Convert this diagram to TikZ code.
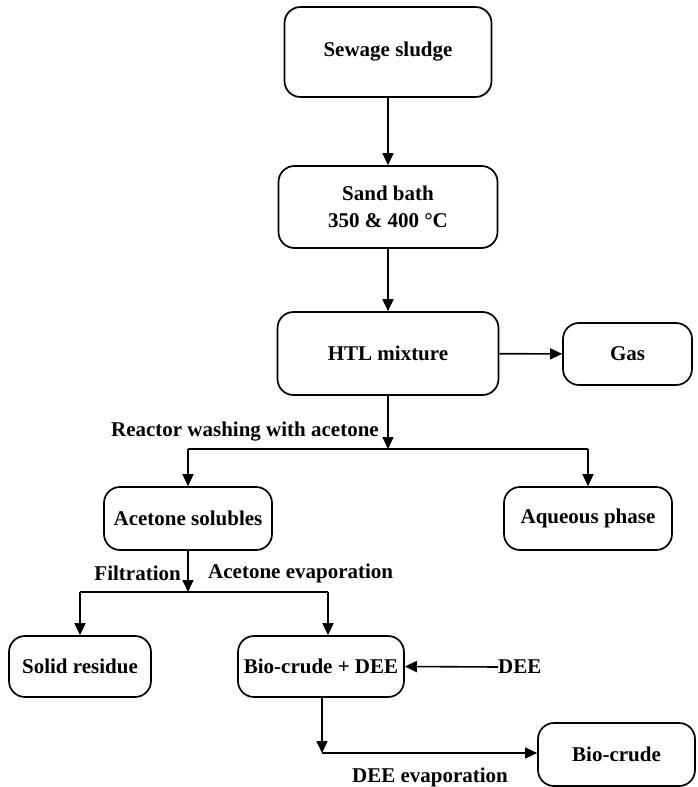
\documentclass[tikz,border=0pt]{standalone}
\usepackage{fontspec}
\setmainfont{Liberation Serif}
\usetikzlibrary{arrows.meta}
\begin{document}
\begin{tikzpicture}[x=1pt,y=-1pt,
  box/.style={draw,line width=1.7pt,rounded corners=16pt,align=center,inner sep=0pt},
  lbl/.style={inner sep=0pt,align=center},
  conn/.style={line width=1.6pt},
  arr/.style={line width=1.6pt,-{Triangle[length=12pt,width=11pt]}},
  every node/.style={font=\fontsize{21}{27}\selectfont\bfseries}]
\useasboundingbox (0,0) rectangle (698,787);
\node[box,minimum width=207pt,minimum height=90pt] (sewage) at (388,52) {Sewage sludge};
\node[box,minimum width=219pt,minimum height=82pt] (sand) at (388,207) {Sand bath\\350 \& 400 °C};
\node[box,minimum width=221pt,minimum height=83pt] (htl) at (388,353.5) {HTL mixture};
\node[box,minimum width=129pt,minimum height=62pt] (gas) at (627.5,354) {Gas};
\node[box,minimum width=168pt,minimum height=63pt] (acet) at (188,518.5) {Acetone solubles};
\node[box,minimum width=168pt,minimum height=63pt] (aq) at (588,518.5) {Aqueous phase};
\node[box,minimum width=142pt,minimum height=61pt] (solid) at (80,666.5) {Solid residue};
\node[box,minimum width=166pt,minimum height=61pt] (bdee) at (321,666.5) {Bio-crude + DEE};
\node[box,minimum width=157pt,minimum height=63pt] (bio) at (616.5,754.5) {Bio-crude};
\node[lbl,anchor=west] (dee) at (498,667) {DEE};
\node[lbl,anchor=east] (washlbl) at (379,432) {Reactor washing with acetone};
\node[lbl,anchor=east] (filtlbl) at (181,573) {Filtration};
\node[lbl,anchor=west] (evaplbl) at (208,573) {Acetone evaporation};
\node[lbl] (deeevap) at (430,777) {DEE evaporation};
\coordinate (j1) at (388,449);
\coordinate (jl) at (188,449);
\coordinate (jr) at (588,449);
\coordinate (j2) at (188,592);
\coordinate (kl) at (80,592);
\coordinate (kr) at (328,592);
\coordinate (m1) at (322,753);
\draw[arr] (sewage) -- (sand);
\draw[arr] (sand) -- (htl);
\draw[arr] (htl) -- (gas);
\draw[arr] (htl) -- (j1);
\draw[conn] (jl) -- (jr);
\draw[arr] (jl) -- (jl |- acet.north);
\draw[arr] (jr) -- (jr |- aq.north);
\draw[arr] (acet) -- (j2);
\draw[conn] (kl) -- (kr);
\draw[arr] (kl) -- (kl |- solid.north);
\draw[arr] (kr) -- (kr |- bdee.north);
\draw[arr] (dee.west) -- (bdee.east);
\draw[arr] (m1 |- bdee.south) -- (m1);
\draw[arr] (m1) -- (m1 -| bio.west);
\end{tikzpicture}
\end{document}
